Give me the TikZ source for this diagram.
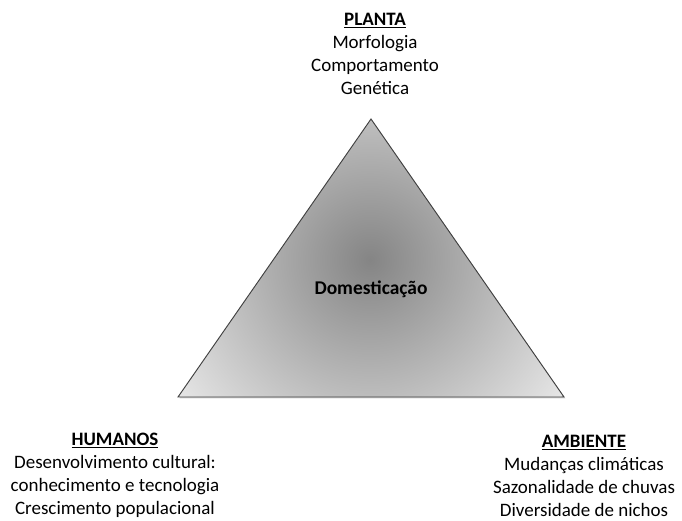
\documentclass[tikz,border=0pt]{standalone}
\usepackage{fontspec}
\setmainfont{Carlito}
\tikzset{
  lbl/.style={align=center, inner sep=0pt, font=\fontsize{16.2}{19.6}\selectfont},
  tri/.style={draw=black!75, line width=0.8pt}
}
\begin{document}
\begin{tikzpicture}[x=0.03cm, y=-0.03cm]
	\useasboundingbox (0,0) rectangle (682,520);
	\coordinate (top) at (371,119);
	\coordinate (bl) at (178,397);
	\coordinate (br) at (564,397);
	% shadow and shaded triangle
	\fill[black!30, opacity=0.6] ([xshift=1.2pt,yshift=-1.2pt]top) -- ([xshift=1.2pt,yshift=-1.2pt]bl) -- ([xshift=1.2pt,yshift=-1.2pt]br) -- cycle;
	\begin{scope}
		\clip (top) -- (bl) -- (br) -- cycle;
		\shade[inner color=black!48, outer color=black!10] (370,260) circle (235);
	\end{scope}
	\draw[tri] (top) -- (bl) -- (br) -- cycle;
	\node[lbl, font=\fontsize{16.6}{20}\selectfont\bfseries] (dom) at (371,289) {Domesticação};
	\node[lbl] (planta) at (375,54) {\underline{\textbf{PLANTA}}\\Morfologia\\Comportamento\\Genética};
	\node[lbl] (humanos) at (115,475) {\underline{\textbf{HUMANOS}}\\Desenvolvimento cultural:\\conhecimento e tecnologia\\Crescimento populacional};
	\node[lbl] (ambiente) at (584,476) {\underline{\textbf{AMBIENTE}}\\Mudanças climáticas\\Sazonalidade de chuvas\\Diversidade de nichos};
\end{tikzpicture}
\end{document}
